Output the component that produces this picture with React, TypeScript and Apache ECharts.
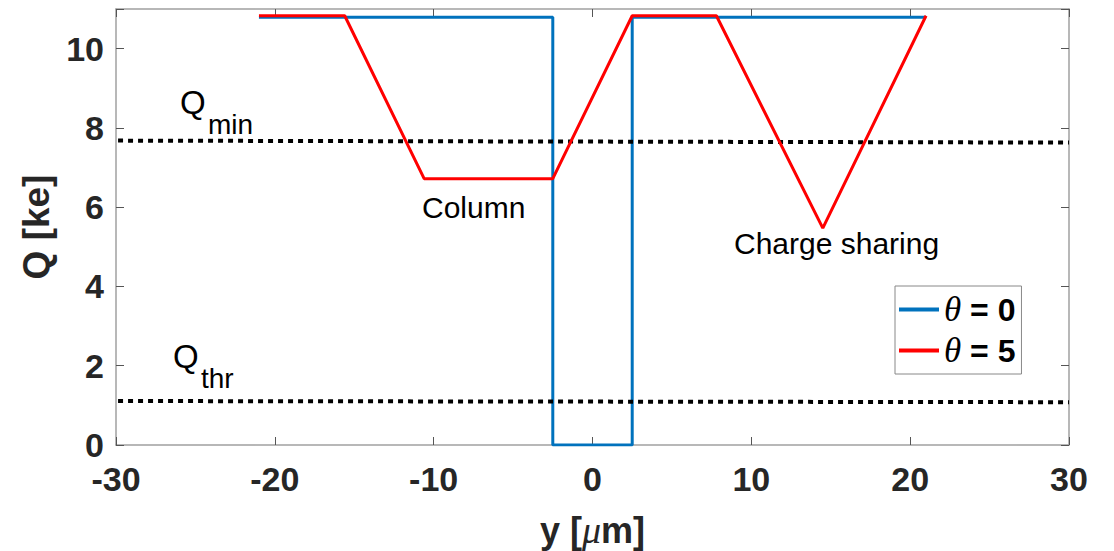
import React, { useEffect, useRef } from "react";
import * as echarts from "echarts";

const X_MIN = -30;
const X_MAX = 30;
const X_INTERVAL = 10;
const Y_MIN = 0;
const Y_MAX = 11;
const Y_INTERVAL = 2;

const blueName = "θ = 0";
const redName = "θ = 5";

const blueX = [-21, -2.5, -2.5, 2.5, 2.5, 21];
const blueY = [10.79, 10.79, 0, 0, 10.79, 10.79];

const redX = [-21, -15.6, -10.6, -2.5, 2.5, 7.8, 14.5, 21];
const redY = [10.83, 10.83, 6.72, 6.72, 10.83, 10.83, 5.47, 10.83];

const qminX = [-30.5, 30];
const qminY = [7.68, 7.63];
const qthrX = [-30.5, 30];
const qthrY = [1.11, 1.08];

const zip = (xs: number[], ys: number[]) => xs.map((x, i) => [x, ys[i]]);

const SANS = "'Liberation Sans', Arial, Helvetica, sans-serif";
const SERIF = "'Liberation Serif', 'DejaVu Serif', serif";

export default function App() {
  const ref = useRef<HTMLDivElement>(null);
  useEffect(() => {
    if (!ref.current) return;
    const chart = echarts.init(ref.current, undefined, { renderer: "svg" });
    const axisGray = "#a0a0a0";
    const labelColor = "#262626";
    const tickStyle = { show: true, inside: true, length: 8, lineStyle: { color: "#555", width: 1 } };
    const option: any = {
      animation: false,
      backgroundColor: "#ffffff",
      grid: { left: 116, top: 9, right: 45, bottom: 106, containLabel: false, outerBoundsMode: "none" },
      legend: {
        data: [blueName, redName],
        orient: "vertical",
        left: 895,
        top: 286,
        width: 110,
        padding: [6, 6, 6, 4],
        itemGap: 6,
        itemWidth: 40,
        itemHeight: 4,
        icon: "rect",
        borderColor: "#888888",
        borderWidth: 1,
        backgroundColor: "#ffffff",
        formatter: (name: string) => {
          const rest = name.replace("θ", "");
          return "{t|θ}{b|" + rest + "}";
        },
        textStyle: {
          rich: {
            t: { fontFamily: SERIF, fontStyle: "italic", fontSize: 35, color: "#000", lineHeight: 36 },
            b: { fontFamily: SANS, fontWeight: "bold", fontSize: 32, color: "#000", lineHeight: 36 },
          },
        },
      },
      xAxis: [
        {
          type: "value",
          min: X_MIN,
          max: X_MAX,
          interval: X_INTERVAL,
          position: "bottom",
          axisLine: { show: true, onZero: false, lineStyle: { color: axisGray, width: 1.5 } },
          axisTick: tickStyle,
          splitLine: { show: false },
          axisLabel: {
            fontFamily: SANS,
            fontWeight: "bold",
            fontSize: 34,
            color: labelColor,
            margin: 17,
          },
          name: "{a|y [}{m|μ}{a|m]}",
          nameLocation: "middle",
          nameGap: 66,
          nameTextStyle: {
            rich: {
              a: { fontFamily: SANS, fontWeight: "bold", fontSize: 36, color: labelColor },
              m: { fontFamily: SERIF, fontStyle: "italic", fontSize: 38, color: labelColor },
            },
          },
        },
        {
          type: "value",
          min: X_MIN,
          max: X_MAX,
          interval: X_INTERVAL,
          position: "top",
          axisLine: { show: true, onZero: false, lineStyle: { color: axisGray, width: 1.5 } },
          axisTick: tickStyle,
          axisLabel: { show: false },
          splitLine: { show: false },
        },
      ],
      yAxis: [
        {
          type: "value",
          min: Y_MIN,
          max: Y_MAX,
          interval: Y_INTERVAL,
          position: "left",
          axisLine: { show: true, onZero: false, lineStyle: { color: axisGray, width: 1.5 } },
          axisTick: tickStyle,
          splitLine: { show: false },
          axisLabel: {
            fontFamily: SANS,
            fontWeight: "bold",
            fontSize: 34,
            color: labelColor,
            margin: 12,
            formatter: (v: number) => (v > 10 ? "" : String(v)),
          },
          name: "Q [ke]",
          nameLocation: "middle",
          nameGap: 58,
          nameTextStyle: { fontFamily: SANS, fontWeight: "bold", fontSize: 37, color: labelColor },
        },
        {
          type: "value",
          min: Y_MIN,
          max: Y_MAX,
          interval: Y_INTERVAL,
          position: "right",
          axisLine: { show: true, onZero: false, lineStyle: { color: axisGray, width: 1.5 } },
          axisTick: tickStyle,
          axisLabel: { show: false },
          splitLine: { show: false },
        },
      ],
      series: [
        {
          name: blueName,
          type: "line",
          data: zip(blueX, blueY),
          showSymbol: false,
          symbol: "none",
          lineStyle: { color: "#0072BD", width: 3 },
          itemStyle: { color: "#0072BD" },
          z: 2,
        },
        {
          name: "Qmin",
          type: "line",
          data: zip(qminX, qminY),
          symbol: "none",
          lineStyle: { color: "#000", width: 4, type: [5, 5] },
          z: 3,
        },
        {
          name: "Qthr",
          type: "line",
          data: zip(qthrX, qthrY),
          symbol: "none",
          lineStyle: { color: "#000", width: 4, type: [5, 5] },
          z: 3,
        },
        {
          name: redName,
          type: "line",
          data: zip(redX, redY),
          showSymbol: false,
          symbol: "none",
          lineStyle: { color: "#FF0000", width: 3 },
          itemStyle: { color: "#FF0000" },
          z: 4,
        },
      ],
      graphic: [
        { type: "text", left: 180, top: 86, style: { text: "Q", font: `33px ${SANS}`, fill: "#000" } },
        { type: "text", left: 208, top: 110, style: { text: "min", font: `28px ${SANS}`, fill: "#000" } },
        { type: "text", left: 173, top: 340, style: { text: "Q", font: `33px ${SANS}`, fill: "#000" } },
        { type: "text", left: 201, top: 364, style: { text: "thr", font: `28px ${SANS}`, fill: "#000" } },
        { type: "text", left: 422, top: 192, style: { text: "Column", font: `30px ${SANS}`, fill: "#000" } },
        { type: "text", left: 734, top: 228, style: { text: "Charge sharing", font: `30px ${SANS}`, fill: "#000" } },
      ],
    };
    chart.setOption(option);
    return () => chart.dispose();
  }, []);
  return (
    <div
      ref={ref}
      style={{ position: "absolute", left: 0, top: 0, width: 1114, height: 551 }}
    />
  );
}
